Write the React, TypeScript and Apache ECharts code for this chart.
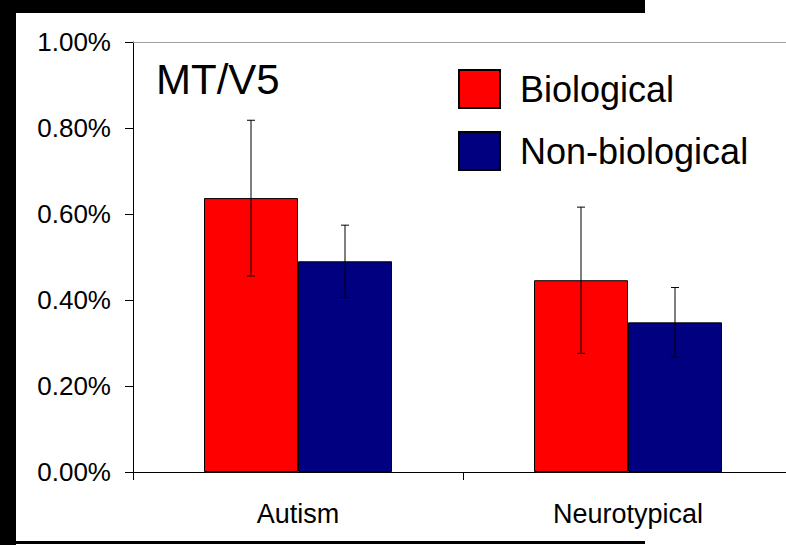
import React, { useEffect, useRef } from "react";
import * as echarts from "echarts";

const categories = ["Autism", "Neurotypical"];
const seriesNames = ["Biological", "Non-biological"];
const biological = [0.637, 0.446];
const biologicalErr = [0.181, 0.17];
const nonBiological = [0.49, 0.348];
const nonBiologicalErr = [0.084, 0.081];
const colors = ["#ff0000", "#000080"];
const titleText = "MT/V5";

const FONT = "'Liberation Sans', Arial, sans-serif";

function errorSeries(values: number[], errs: number[], offset: number) {
  return {
    type: "custom",
    silent: true,
    z: 10,
    data: values.map((v, i) => [i, v - errs[i], v + errs[i]]),
    renderItem: (params: any, api: any) => {
      const idx = api.value(0);
      const lo = api.coord([idx, api.value(1)]);
      const hi = api.coord([idx, api.value(2)]);
      const x = lo[0] + offset;
      const cap = 4;
      const style = { stroke: "#000", lineWidth: 1 };
      return {
        type: "group",
        children: [
          { type: "line", shape: { x1: x, y1: lo[1], x2: x, y2: hi[1] }, style },
          { type: "line", shape: { x1: x - cap, y1: lo[1], x2: x + cap, y2: lo[1] }, style },
          { type: "line", shape: { x1: x - cap, y1: hi[1], x2: x + cap, y2: hi[1] }, style },
        ],
      };
    },
  };
}

export default function App() {
  const ref = useRef<HTMLDivElement>(null);
  useEffect(() => {
    document.body.style.margin = "0";
    const chart = echarts.init(ref.current!, null, { renderer: "svg" });
    const barW = 94;
    chart.setOption({
      animation: false,
      backgroundColor: "#ffffff",
      textStyle: { fontFamily: FONT },
      grid: { left: 133, top: 42, width: 660, height: 430, containLabel: false },
      legend: {
        data: seriesNames,
        orient: "vertical",
        left: 458,
        top: 69,
        padding: 0,
        itemWidth: 41,
        itemHeight: 38,
        itemGap: 22,
        icon: "rect",
        textStyle: { fontSize: 36, color: "#000", fontFamily: FONT, lineHeight: 38, padding: [0, 0, 0, 15] },
      },
      xAxis: [
        {
          type: "category",
          data: categories,
          position: "bottom",
          axisLine: { lineStyle: { color: "#000", width: 1 } },
          axisTick: { show: true, length: 8, lineStyle: { color: "#000" } },
          axisLabel: { fontSize: 27, color: "#000", margin: 28, fontFamily: FONT },
        },
        {
          type: "category",
          data: categories,
          position: "top",
          axisLine: { lineStyle: { color: "#a0a0a0", width: 1 } },
          axisTick: { show: false },
          axisLabel: { show: false },
        },
      ],
      yAxis: {
        type: "value",
        min: 0,
        max: 1,
        interval: 0.2,
        axisLine: { show: true, lineStyle: { color: "#000", width: 1 } },
        axisTick: { show: true, length: 8, lineStyle: { color: "#000" } },
        splitLine: { show: false },
        axisLabel: {
          fontSize: 26,
          color: "#000",
          margin: 22,
          fontFamily: FONT,
          formatter: (v: number) => v.toFixed(2) + "%",
        },
      },
      series: [
        {
          name: seriesNames[0],
          type: "bar",
          data: biological,
          barWidth: barW,
          barGap: "0%",
          itemStyle: { color: colors[0], borderColor: "#000", borderWidth: 1 },
        },
        {
          name: seriesNames[1],
          type: "bar",
          data: nonBiological,
          barWidth: barW,
          barGap: "0%",
          itemStyle: { color: colors[1], borderColor: "#000", borderWidth: 1 },
        },
        errorSeries(biological, biologicalErr, -barW / 2),
        errorSeries(nonBiological, nonBiologicalErr, barW / 2),
      ],
      graphic: [
        { type: "rect", left: 0, top: 0, shape: { x: 0, y: 0, width: 16, height: 545 }, style: { fill: "#000" }, z: 100 },
        { type: "rect", left: 0, top: 0, shape: { x: 0, y: 0, width: 645, height: 13 }, style: { fill: "#000" }, z: 100 },
        { type: "rect", left: 0, top: 541, shape: { x: 0, y: 0, width: 645, height: 3 }, style: { fill: "#000" }, z: 100 },
        {
          type: "text",
          x: 156,
          y: 79,
          style: { text: titleText, fontSize: 42, fill: "#000", fontFamily: FONT, verticalAlign: "middle", align: "left" },
          z: 100,
        },
      ],
    });
    return () => chart.dispose();
  }, []);
  return (
    <div style={{ width: 786, height: 545, overflow: "hidden", position: "relative" }}>
      <div ref={ref} style={{ width: 810, height: 545 }} />
    </div>
  );
}
